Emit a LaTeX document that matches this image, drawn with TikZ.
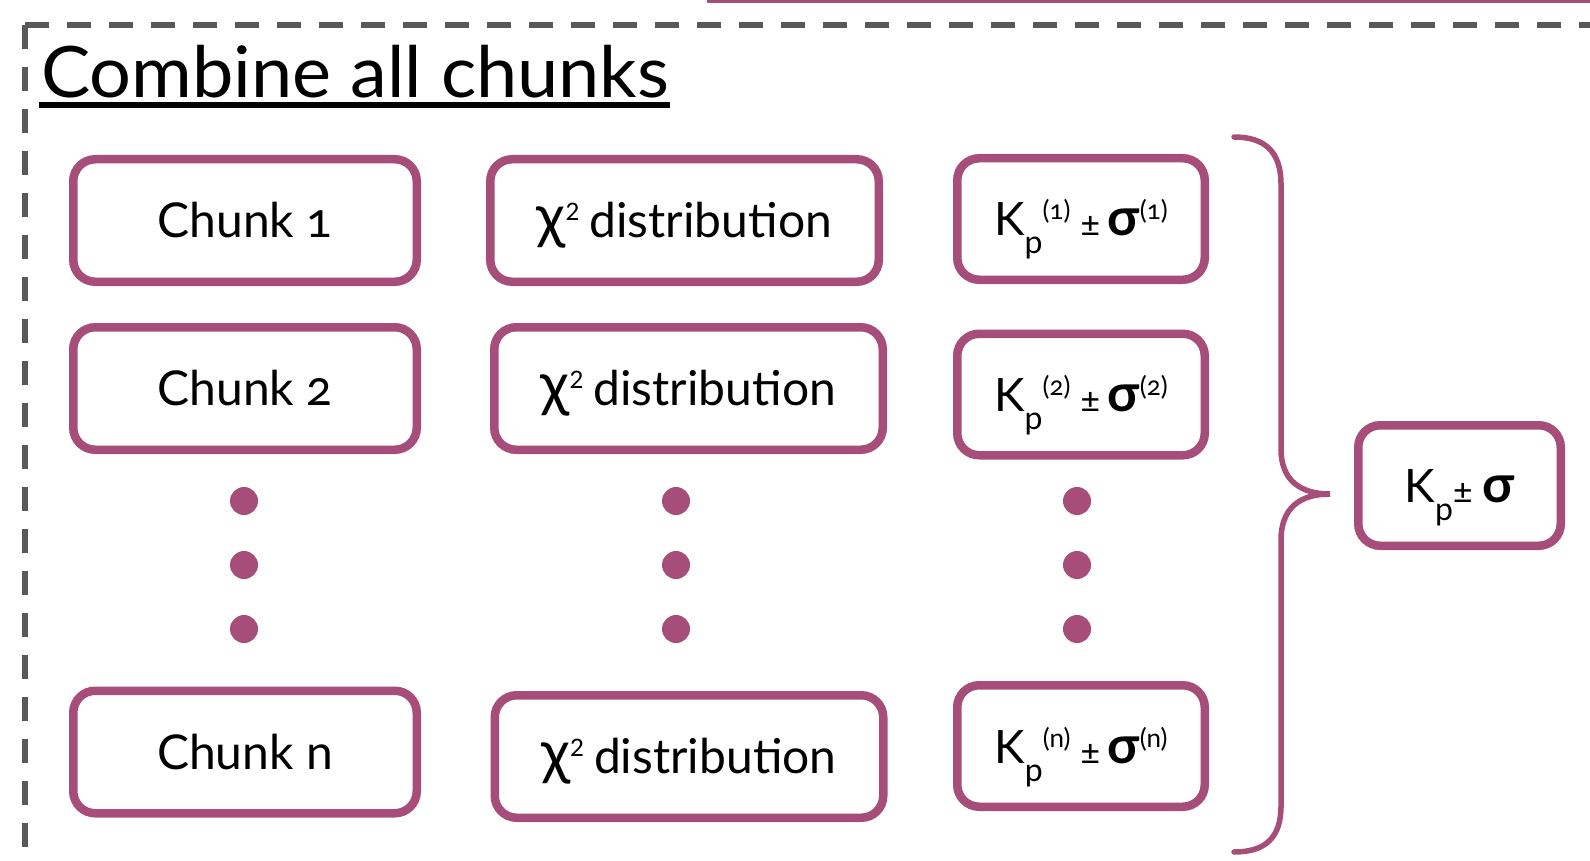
\documentclass[tikz,border=0pt]{standalone}
\usepackage{fontspec}
\setmainfont{Lato}[Numbers=OldStyle]
\definecolor{berry}{HTML}{A64D79}
\definecolor{dashgray}{HTML}{595959}
\newcommand{\fs}[1]{\fontsize{#1}{#1}\selectfont}
\newcommand{\chisq}{{\fs{60}χ}\raisebox{17pt}{\fs{24}\addfontfeatures{Numbers=Lining}2}\hspace{10pt}distribution}
\newcommand{\kpsig}[1]{{\fs{46}K}\raisebox{-18pt}{\fs{32}p}\raisebox{16pt}{\fs{26}(#1)}\hspace{10pt}{\fs{36}±}\hspace{8pt}{\fs{52}\bfseries σ}\raisebox{16pt}{\fs{26}(#1)}}
\begin{document}
\begin{tikzpicture}[x=1pt,y=-1pt,
  box/.style={draw=berry, line width=8.5pt, rounded corners=22pt, inner sep=0pt,
    fill=white, align=center, font=\fs{48}, text height=34pt, text depth=0pt},
  colA/.style={box, minimum width=343.5pt, minimum height=122.5pt},
  colB/.style={box, minimum width=388.5pt, minimum height=122.5pt},
  colC/.style={box, minimum width=247.5pt, minimum height=121.5pt},
  finalbox/.style={box, minimum width=202.5pt, minimum height=120.5pt},
  dot/.style={circle, fill=berry, inner sep=0pt, minimum size=28pt},
  frame/.style={draw=dashgray, line width=5.5pt, dash pattern=on 24pt off 18pt},
  bracestyle/.style={draw=berry, line width=5.5pt, line cap=round}]
\useasboundingbox (0,0) rectangle (1590,861);
\clip (0,0) rectangle (1590,861);

% frame of the panel (continues beyond the picture)
\coordinate (corner) at (25,25);
\coordinate (frameR) at (1620,25);
\coordinate (frameB) at (25,900);
\draw[frame] (corner) -- (frameR);
\draw[frame] (corner) -- (frameB);

% bottom edge of a box above (cut off)
\coordinate (topL) at (707,1.5);
\coordinate (topR) at (1620,1.5);
\draw[berry, line width=3.5pt] (topL) -- (topR);

% title
\node[anchor=base west, inner sep=0pt, font=\fs{71}, xscale=1.04] (title) at (41,98) {Combine all chunks};
\coordinate (ulL) at (39,105);
\coordinate (ulR) at (670,105);
\draw[black, line width=6pt] (ulL) -- (ulR);

% column 1
\node[colA] (c1) at (245,220.5) {Chunk 1};
\node[colA] (c2) at (245,388.5) {Chunk 2};
\node[colA] (cn) at (245,752) {Chunk n};

% column 2
\node[colB] (x1) at (684.5,220.5) {\chisq};
\node[colB] (x2) at (688.5,388.5) {\chisq};
\node[colB] (xn) at (689,756.5) {\chisq};

% column 3
\node[colC] (k1) at (1081,219) {\kpsig{1}};
\node[colC] (k2) at (1081,394.5) {\kpsig{2}};
\node[colC] (kn) at (1081,746) {\kpsig{n}};

% dots
\node[dot] (a1) at (244,501) {};
\node[dot] (a2) at (244,565) {};
\node[dot] (a3) at (244,629) {};
\node[dot] (b1) at (676,501) {};
\node[dot] (b2) at (676,565) {};
\node[dot] (b3) at (676,629) {};
\node[dot] (e1) at (1077,501) {};
\node[dot] (e2) at (1077,565) {};
\node[dot] (e3) at (1077,629) {};

% brace
\coordinate (brT) at (1234,137);
\coordinate (brTip) at (1330,494);
\coordinate (brB) at (1234,852);
\draw[bracestyle] (brT) .. controls (1265,137) and (1281,152) .. (1281,184)
  -- (1281,449) .. controls (1281,480) and (1300,494) .. (brTip)
  .. controls (1300,494) and (1281,508) .. (1281,540)
  -- (1281,806) .. controls (1281,838) and (1265,852) .. (brB);

% final result
\node[finalbox] (res) at (1459.5,485.5) {{\fs{46}K}\raisebox{-18pt}{\fs{32}p}{\fs{36}±}\hspace{10pt}{\fs{52}\bfseries σ}};
\end{tikzpicture}
\end{document}
